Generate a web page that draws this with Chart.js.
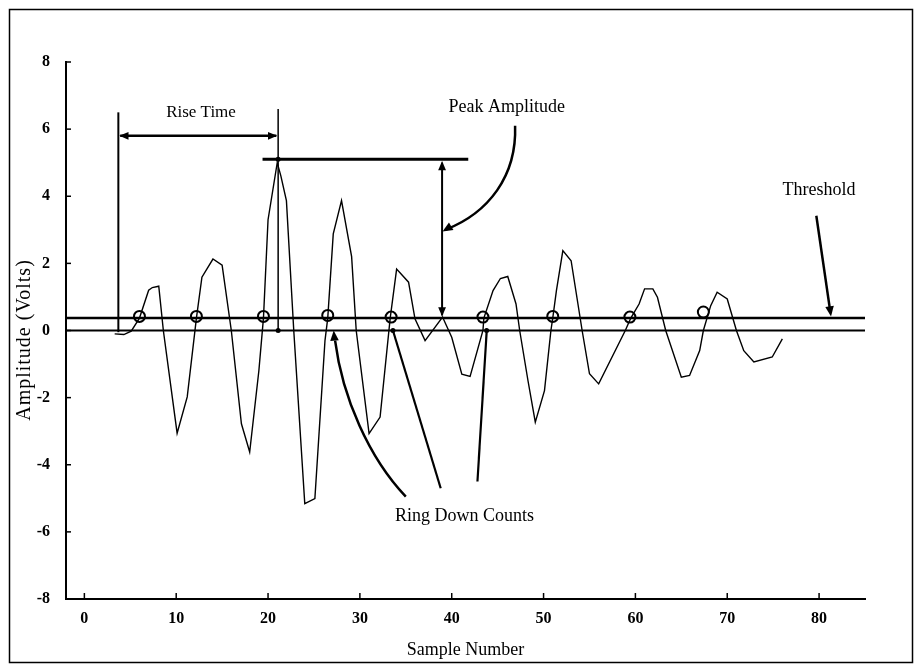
<!DOCTYPE html>
<html lang="en">
<head>
<meta charset="UTF-8">
<title>Ring Down Counts</title>
<script src="https://cdn.jsdelivr.net/npm/chart.js@4.4.0/dist/chart.umd.min.js"></script>
<style>
  html, body { margin: 0; padding: 0; background: #fff; }
  #wrap { width: 918px; height: 666px; }
</style>
</head>
<body>
<div id="wrap"><canvas id="myChart" width="918" height="666"></canvas></div>
<script>
// waveform: sample number / volts
const sampleX = [3.3, 4.3, 5.1, 6.0, 7.0, 7.4, 8.1, 8.6, 10.1, 11.2, 12.2, 12.8, 14.0, 15.0, 16.0, 17.1, 18.0, 19.0, 19.5, 20.0,
  21.0, 21.4, 22.0, 22.8, 24.0, 25.1, 26.2, 26.5, 27.1, 28.0, 29.1, 29.6, 31.0, 32.2, 33.3, 34.0, 35.3, 36.0, 37.1, 39.0,
  40.0, 41.1, 42.0, 43.4, 43.5, 44.5, 45.3, 46.1, 47.0, 47.4, 48.3, 49.1, 50.1, 50.8, 51.0, 51.4, 52.1, 53.0, 54.2, 55.0,
  56.0, 58.9, 59.5, 60.4, 61.0, 61.9, 62.4, 63.3, 65.0, 65.9, 67.0, 67.4, 68.2, 68.9, 70.0, 71.0, 71.8, 72.9, 74.9, 76.0]
const amplitude = [-0.1, -0.12, -0.02, 0.37, 1.2, 1.28, 1.32, 0.0, -3.06, -1.98, 0.37, 1.59, 2.13, 1.95, 0.0, -2.78, -3.62, -1.2, 0.37, 3.3,
  5.0, 4.6, 3.87, 0.0, -5.16, -5.01, -0.3, 0.37, 2.88, 3.87, 2.2, 0.0, -3.07, -2.58, 0.37, 1.83, 1.44, 0.35, -0.3, 0.4,
  -0.2, -1.3, -1.37, 0.0, 0.37, 1.19, 1.55, 1.61, 0.79, 0.0, -1.49, -2.73, -1.79, 0.0, 0.37, 1.19, 2.38, 2.08, 0.0, -1.29,
  -1.59, 0.0, 0.37, 0.79, 1.24, 1.24, 0.99, 0.0, -1.39, -1.34, -0.6, 0.0, 0.74, 1.14, 0.94, 0.0, -0.6, -0.94, -0.79, -0.25]

const thresholdLevel = 0.37
// the little circles where the signal crosses the threshold
const crossingX = [6.0, 12.2, 19.5, 26.5, 33.4, 43.4, 51.0, 59.4, 67.4]
const crossingY = [0.42, 0.42, 0.42, 0.45, 0.4, 0.4, 0.42, 0.4, 0.55]

const xTicks = [0, 10, 20, 30, 40, 50, 60, 70, 80]
const yTicks = [-8, -6, -4, -2, 0, 2, 4, 6, 8]

const serif = "'Liberation Serif', 'DejaVu Serif', serif"

function arrowHead(ctx, x0, y0, x1, y1, size) {
  let a = Math.atan2(y1 - y0, x1 - x0)
  ctx.beginPath()
  ctx.moveTo(x1, y1)
  ctx.lineTo(x1 - size * Math.cos(a - 0.4), y1 - size * Math.sin(a - 0.4))
  ctx.lineTo(x1 - size * Math.cos(a + 0.4), y1 - size * Math.sin(a + 0.4))
  ctx.closePath()
  ctx.fill()
}

// labels, arrows and tick marks, all placed in data units
const notesPlugin = {
  id: 'notes',
  afterDatasetsDraw(chart) {
    const c = chart.ctx
    const xs = chart.scales.x, ys = chart.scales.y
    const X = v => xs.getPixelForValue(v)
    const Y = v => ys.getPixelForValue(v)
    const area = chart.chartArea
    c.save()
    c.strokeStyle = '#000'
    c.fillStyle = '#000'
    c.lineCap = 'butt'

    function line(x0, y0, x1, y1, w) {
      c.lineWidth = w
      c.beginPath()
      c.moveTo(X(x0), Y(y0))
      c.lineTo(X(x1), Y(y1))
      c.stroke()
    }

    // inward tick marks
    c.lineWidth = 1.5
    yTicks.forEach(v => { c.beginPath(); c.moveTo(area.left, Y(v)); c.lineTo(area.left + 5, Y(v)); c.stroke() })
    xTicks.forEach(v => { c.beginPath(); c.moveTo(X(v), area.bottom); c.lineTo(X(v), area.bottom - 6); c.stroke() })

    // rise time
    line(3.7, 6.5, 3.7, -0.05, 2)
    line(21.1, 6.6, 21.1, 0, 1.5)
    line(3.9, 5.8, 20.9, 5.8, 2.5)
    arrowHead(c, X(10), Y(5.8), X(3.8), Y(5.8), 10)
    arrowHead(c, X(15), Y(5.8), X(21.0), Y(5.8), 10)

    // peak amplitude
    line(19.4, 5.1, 41.8, 5.1, 3)
    line(38.95, 5.0, 38.95, 0.45, 2)
    arrowHead(c, X(38.95), Y(3), X(38.95), Y(5.05), 10)
    arrowHead(c, X(38.95), Y(3), X(38.95), Y(0.42), 10)
    c.lineWidth = 2.5
    c.beginPath()
    c.moveTo(X(46.9), Y(6.1))
    c.bezierCurveTo(X(47.1), Y(4.6), X(44), Y(3.5), X(39.3), Y(3.0))
    c.stroke()
    arrowHead(c, X(40.5), Y(3.2), X(39.0), Y(2.95), 11)

    // threshold pointer
    line(79.7, 3.42, 81.2, 0.6, 2.5)
    arrowHead(c, X(79.7), Y(3.42), X(81.3), Y(0.42), 11)

    // ring down count pointers
    c.lineWidth = 2.5
    c.beginPath()
    c.moveTo(X(35.0), Y(-4.95))
    c.bezierCurveTo(X(31), Y(-3.8), X(28.1), Y(-2.0), X(27.3), Y(-0.3))
    c.stroke()
    arrowHead(c, X(27.5), Y(-1.2), X(27.15), Y(0.0), 11)
    line(33.6, 0, 38.8, -4.7, 2.2)
    line(43.8, -0.05, 42.8, -4.5, 2.2)
    ;[[21.1, 0], [21.1, 5.1], [33.6, 0], [43.8, 0]].forEach(p => {
      c.beginPath(); c.arc(X(p[0]), Y(p[1]), 2.5, 0, Math.PI * 2); c.fill()
    })

    // texts
    c.font = '17px ' + serif
    c.textAlign = 'center'
    c.textBaseline = 'middle'
    c.fillText('Rise Time', X(12.7), Y(6.5))
    c.font = '18px ' + serif
    c.fillText('Peak Amplitude', X(46.0), Y(6.66))
    c.fillText('Threshold', X(80.0), Y(4.17))
    c.fillText('Ring Down Counts', X(41.4), Y(-5.54))

    // axis titles
    c.fillText('Sample Number', (area.left + area.right) / 2, 650)
    c.save()
    c.font = '20px ' + serif
    c.letterSpacing = '1px'
    c.translate(25, 340)
    c.rotate(-Math.PI / 2)
    c.fillText('Amplitude (Volts)', 0, 0)
    c.restore()

    // outer frame
    c.lineWidth = 1.5
    c.strokeRect(9.5, 9.5, 903, 653)
    c.restore()
  }
}

const ctx = document.getElementById('myChart').getContext('2d')
const chart = new Chart(ctx, {
  type: 'scatter',
  data: {
    datasets: [
      {
        data: sampleX.map((x, i) => ({ x: x, y: amplitude[i] })),
        showLine: true, borderColor: '#000', borderWidth: 1.4, pointRadius: 0, tension: 0
      },
      {
        data: [{ x: -2, y: thresholdLevel }, { x: 85, y: thresholdLevel }],
        showLine: true, borderColor: '#000', borderWidth: 2.5, pointRadius: 0
      },
      {
        data: [{ x: -2, y: 0 }, { x: 85, y: 0 }],
        showLine: true, borderColor: '#000', borderWidth: 2, pointRadius: 0
      },
      {
        data: crossingX.map((x, i) => ({ x: x, y: crossingY[i] })),
        pointRadius: 5.5, borderWidth: 2, borderColor: '#000', backgroundColor: 'rgba(255,255,255,0)'
      }
    ]
  },
  options: {
    responsive: false,
    animation: false,
    events: [],
    layout: { padding: { top: 62, right: 53, left: 0, bottom: 0 } },
    plugins: { legend: { display: false }, tooltip: { enabled: false } },
    scales: {
      x: {
        type: 'linear', min: -2, max: 85,
        afterFit: s => { s.height = 67 },
        afterBuildTicks: s => { s.ticks = xTicks.map(v => ({ value: v })) },
        grid: { display: false },
        border: { display: true, color: '#000', width: 2 },
        ticks: { color: '#000', padding: 2, maxRotation: 0, autoSkip: false, font: { family: serif, size: 16, weight: 'bold' } }
      },
      y: {
        type: 'linear', min: -8, max: 8,
        afterFit: s => { s.width = 66 },
        afterBuildTicks: s => { s.ticks = yTicks.map(v => ({ value: v })) },
        grid: { display: false },
        border: { display: true, color: '#000', width: 2 },
        ticks: { color: '#000', padding: 8, autoSkip: false, font: { family: serif, size: 16, weight: 'bold' } }
      }
    }
  },
  plugins: [notesPlugin]
})
</script>
</body>
</html>
